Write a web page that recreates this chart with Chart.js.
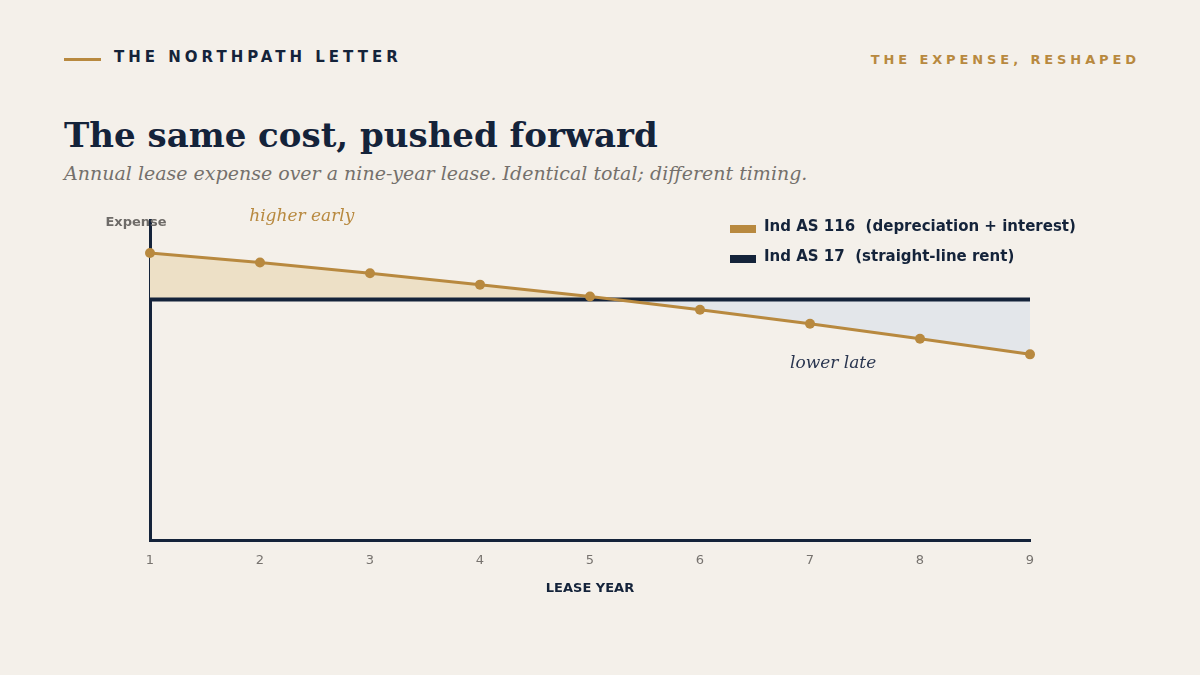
<!DOCTYPE html>
<html>
<head>
<meta charset="utf-8">
<script src="https://cdn.jsdelivr.net/npm/chart.js@4/dist/chart.umd.min.js"></script>
<style>
  html, body { margin: 0; padding: 0; background: #f4f0ea; }
  #wrap { position: relative; width: 1200px; height: 675px; overflow: hidden; }
  #chart { position: absolute; left: 0; top: 0; }
  .rule { position: absolute; left: 64px; top: 58px; width: 37px; height: 3px; background: #b8893f; }
  .brand { position: absolute; left: 114px; top: 48px; font: bold 15px "DejaVu Sans", sans-serif; letter-spacing: 4px; color: #14233a; }
  .kicker { position: absolute; right: 60px; top: 52px; font: bold 13px "DejaVu Sans", sans-serif; letter-spacing: 3.9px; color: #b8893f; }
  h1 { position: absolute; left: 64px; top: 115px; margin: 0; font: bold 34px "DejaVu Serif", serif; color: #14233a; }
  .sub { position: absolute; left: 64px; top: 162px; margin: 0; font: italic 19px "DejaVu Serif", serif; color: #74706c; }
  .legend { position: absolute; left: 730px; top: 217px; font: bold 15px "DejaVu Sans", sans-serif; color: #14233a; }
  .legend div { height: 30px; display: flex; align-items: flex-start; }
  .legend span.sw { display: inline-block; width: 26px; height: 8px; margin-right: 8px; margin-top: 8px; }
</style>
</head>
<body>
<div id="wrap">
  <div class="rule"></div>
  <div class="brand">THE NORTHPATH LETTER</div>
  <div class="kicker">THE EXPENSE, RESHAPED</div>
  <h1>The same cost, pushed forward</h1>
  <p class="sub">Annual lease expense over a nine-year lease. Identical total; different timing.</p>
  <canvas id="chart" width="1200" height="675"></canvas>
  <div class="legend">
    <div><span class="sw" style="background:#b8893f"></span>Ind AS 116&nbsp; (depreciation + interest)</div>
    <div><span class="sw" style="background:#14233a"></span>Ind AS 17&nbsp; (straight-line rent)</div>
  </div>
</div>
<script>
const years = [1, 2, 3, 4, 5, 6, 7, 8, 9];
const indAs116 = [119.3, 115.4, 110.9, 106.2, 101.3, 95.8, 90.0, 83.8, 77.3];
const indAs17 = [100, 100, 100, 100, 100, 100, 100, 100, 100];

const gold = '#b8893f';
const navy = '#14233a';

const notes = {
  id: 'notes',
  afterDatasetsDraw(chart) {
    const { ctx, chartArea, scales } = chart;
    ctx.save();
    ctx.textAlign = 'center';
    ctx.textBaseline = 'middle';
    ctx.font = 'bold 13px "DejaVu Sans", sans-serif';
    ctx.fillStyle = '#6e6b68';
    ctx.fillText('Expense', chartArea.left - 14, chartArea.top + 3);
    ctx.font = 'italic 17px "DejaVu Serif", serif';
    ctx.fillStyle = gold;
    ctx.fillText('higher early', scales.x.getPixelForValue(2.38), chartArea.top - 3);
    ctx.fillStyle = '#2a3650';
    ctx.fillText('lower late', scales.x.getPixelForValue(7.21), scales.y.getPixelForValue(73.3));
    ctx.restore();
  }
};

new Chart(document.getElementById('chart'), {
  type: 'line',
  data: {
    labels: years,
    datasets: [
      {
        label: 'Ind AS 116  (depreciation + interest)',
        data: indAs116,
        borderColor: gold,
        backgroundColor: gold,
        borderWidth: 3,
        pointRadius: 5,
        pointBackgroundColor: gold,
        pointBorderWidth: 0,
        fill: { target: 1, above: '#ede0c6', below: '#e3e6ea' },
        clip: false
      },
      {
        label: 'Ind AS 17  (straight-line rent)',
        data: indAs17,
        borderColor: navy,
        borderWidth: 4,
        pointRadius: 0,
        fill: false,
        clip: false
      }
    ]
  },
  options: {
    responsive: false,
    animation: false,
    layout: { padding: { left: 142, right: 170, top: 220, bottom: 75 } },
    plugins: {
      legend: { display: false },
      tooltip: { enabled: false },
      filler: { drawTime: 'beforeDatasetsDraw' }
    },
    scales: {
      x: {
        type: 'linear',
        min: 1,
        max: 9,
        grid: { display: false },
        border: { display: true, color: navy, width: 3 },
        ticks: { stepSize: 1, color: '#77736f', font: { family: 'DejaVu Sans', size: 13 }, padding: 4 },
        title: { display: true, text: 'LEASE YEAR', color: navy, font: { family: 'DejaVu Sans', size: 13, weight: 'bold' }, padding: { top: 8 } }
      },
      y: {
        min: 0,
        max: 133,
        grid: { display: false },
        border: { display: true, color: navy, width: 3 },
        ticks: { display: false }
      }
    }
  },
  plugins: [notes]
});
</script>
</body>
</html>
